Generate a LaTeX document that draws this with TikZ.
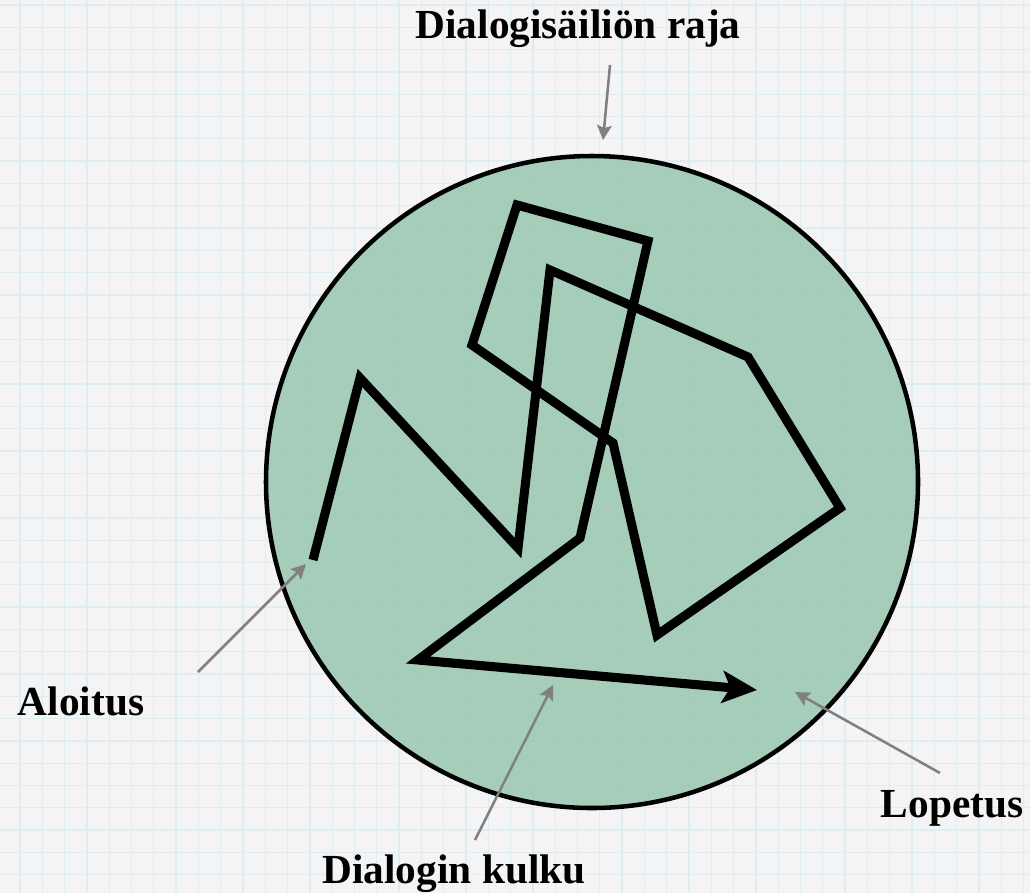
\documentclass[tikz,border=0pt]{standalone}
\usepackage{fontspec}
\setmainfont{Liberation Serif}
\usetikzlibrary{arrows.meta}
\definecolor{bgc}{RGB}{244,244,244}
\definecolor{gridc}{RGB}{222,236,244}
\definecolor{circc}{RGB}{155,200,178}
\definecolor{pointer}{RGB}{128,128,128}
\tikzset{
  lbl/.style={font=\fontsize{31}{34}\selectfont\bfseries, inner sep=0pt, anchor=base},
  flow/.style={line width=6.8pt, miter limit=10, line join=miter, -{Stealth[length=26pt,width=24pt,inset=6pt]}},
  ptr/.style={draw=pointer, line width=1.9pt, -{Stealth[length=11pt,width=11pt,inset=2pt]}},
}
\begin{document}
\begin{tikzpicture}[x=0.75pt,y=-0.75pt]
\useasboundingbox (0,0) rectangle (1030,893);
\fill[bgc] (0,0) rectangle (1030,893);
\foreach \i in {0,...,46} {
  \draw[gridc, line width=1pt] ({-2.3+22.3*\i},0) -- ({-2.3+22.3*\i},893);
}
\foreach \j in {0,...,40} {
  \draw[gridc, line width=1pt] (0,{5+22.3*\j}) -- (1030,{5+22.3*\j});
}
% container
\node[circle, minimum size=652*0.75pt, inner sep=0pt, draw=black, line width=3.4pt, fill=circc, fill opacity=0.88] (cont) at (592,482) {};
% dialogue flow
\coordinate (s) at (313,560);
\coordinate (e) at (757,690);
\draw[flow] (s) -- (360,378) -- (518,548) -- (550,270) -- (748,357) -- (840,508) -- (657,635) -- (613,443) -- (472,345) -- (517,205) -- (648,241) -- (580,538) -- (418,660) -- (e);
% labels
\node[lbl] (title) at (578,38) {Dialogisäiliön raja};
\node[lbl] (start) at (81,715) {Aloitus};
\node[lbl] (stop) at (952,817) {Lopetus};
\node[lbl] (flowlbl) at (454,883) {Dialogin kulku};
% pointer coordinates
\coordinate (t1) at (610,65);
\coordinate (t2) at (603,140);
\coordinate (a1) at (198,672);
\coordinate (a2) at (306,564);
\coordinate (k1) at (475,840);
\coordinate (k2) at (553,685);
\coordinate (l1) at (940,773);
\coordinate (l2) at (795,692);
\draw[ptr] (t1) -- (t2);
\draw[ptr] (a1) -- (a2);
\draw[ptr] (k1) -- (k2);
\draw[ptr] (l1) -- (l2);
\end{tikzpicture}
\end{document}
